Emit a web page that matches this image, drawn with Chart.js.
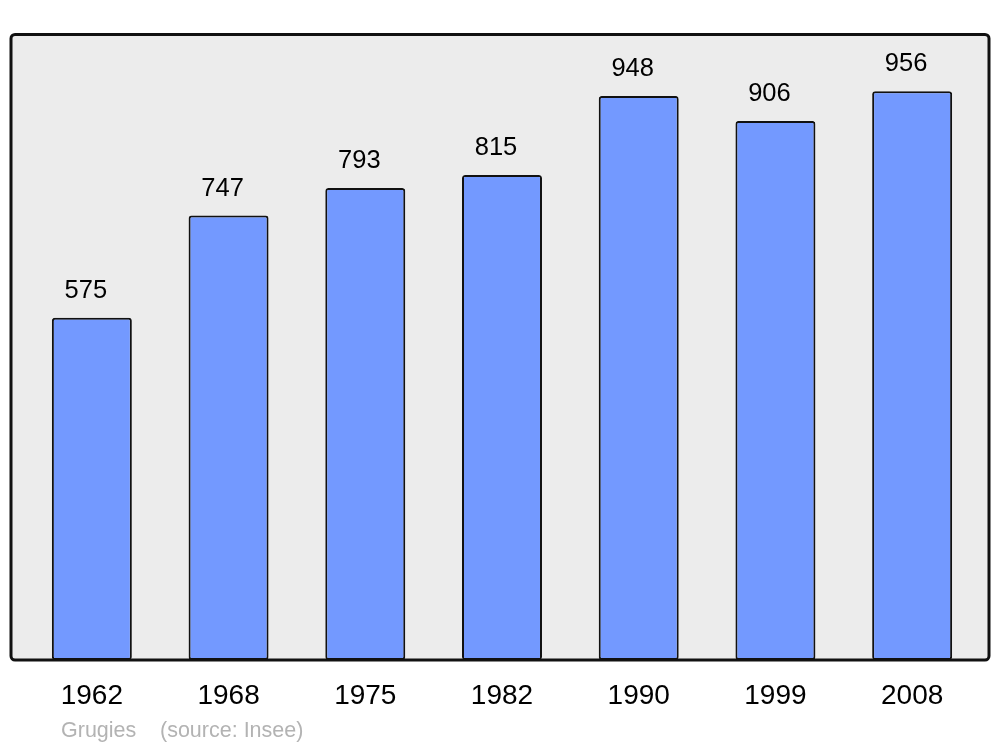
<!DOCTYPE html>
<html>
<head>
<meta charset="utf-8">
<script src="https://cdn.jsdelivr.net/npm/chart.js@4/dist/chart.umd.min.js"></script>
<style>
html,body{margin:0;padding:0;background:#fff;}
#wrap{position:relative;width:1000px;height:747px;}
</style>
</head>
<body>
<div id="wrap"><canvas id="c" width="1000" height="747"></canvas></div>
<script>
const years = ['1962','1968','1975','1982','1990','1999','2008'];
const population = [575, 747, 793, 815, 948, 906, 956];
const yMax = 1052;
const footerPlace = 'Grugies';
const footerSource = '(source: Insee)';

const FONT = '"Liberation Sans", Arial, sans-serif';

const boxPlugin = {
  id: 'box',
  beforeDatasetsDraw(chart) {
    const ctx = chart.ctx;
    ctx.save();
    ctx.beginPath();
    ctx.roundRect(11, 34.5, 978, 625.5, 4);
    ctx.fillStyle = '#ececec';
    ctx.fill();
    ctx.restore();
  },
  afterDatasetsDraw(chart) {
    const ctx = chart.ctx;
    ctx.save();
    ctx.beginPath();
    ctx.roundRect(11, 34.5, 978, 625.5, 4);
    ctx.lineWidth = 3;
    ctx.strokeStyle = '#111';
    ctx.stroke();
    // value labels
    const meta = chart.getDatasetMeta(0);
    ctx.fillStyle = '#000';
    ctx.font = '25.5px ' + FONT;
    ctx.textAlign = 'center';
    ctx.textBaseline = 'middle';
    meta.data.forEach((bar, i) => {
      ctx.fillText(String(population[i]), bar.x - 6, bar.y - 27);
    });
    // footer
    ctx.fillStyle = '#b3b3b3';
    ctx.font = '21.5px ' + FONT;
    ctx.textAlign = 'left';
    ctx.fillText(footerPlace, 61, 731);
    ctx.fillText(footerSource, 160, 731);
    ctx.restore();
  }
};

new Chart(document.getElementById('c'), {
  type: 'bar',
  data: {
    labels: years,
    datasets: [{
      data: population,
      backgroundColor: '#7399ff',
      borderColor: '#111',
      borderWidth: 2,
      borderRadius: 3,
      borderSkipped: false,
      barPercentage: 0.585,
      categoryPercentage: 1.0
    }]
  },
  options: {
    responsive: false,
    animation: false,
    devicePixelRatio: 1,
    layout: { padding: { left: 23.5, right: 19.5, top: 34, bottom: 0 } },
    plugins: { legend: { display: false }, tooltip: { enabled: false }, title: { display: false } },
    scales: {
      x: {
        grid: { display: false, drawTicks: false },
        border: { display: false },
        ticks: { color: '#000', font: { family: FONT, size: 28 }, padding: 19, maxRotation: 0 },
        afterFit(scale) { scale.height = 87; }
      },
      y: {
        display: false,
        min: 0,
        max: yMax
      }
    }
  },
  plugins: [boxPlugin]
});
</script>
</body>
</html>
